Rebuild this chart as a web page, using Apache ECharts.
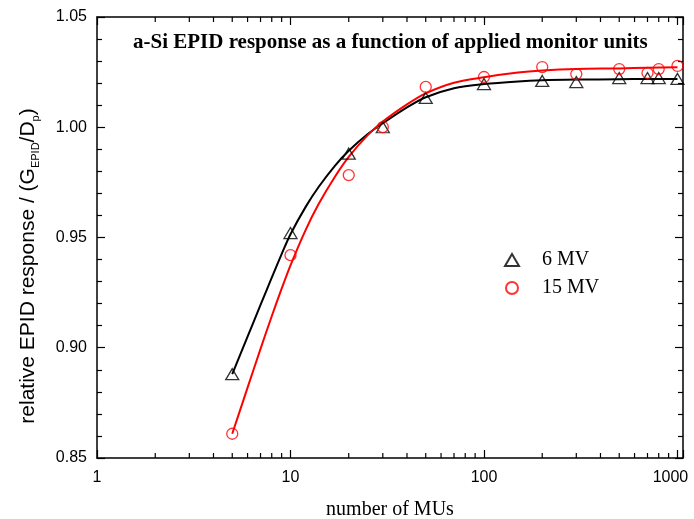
<!DOCTYPE html>
<html>
<head>
<meta charset="utf-8">
<script src="https://cdn.jsdelivr.net/npm/echarts@6/dist/echarts.min.js"></script>
<style>
  html, body { margin: 0; padding: 0; background: #fff; }
  #chart { width: 694px; height: 519px; }
</style>
</head>
<body>
<div id="chart"></div>
<script>
// Measured monitor units and relative EPID response
const monitorUnits = [5, 10, 20, 30, 50, 100, 200, 300, 500, 700, 800, 1000];
const response6MV  = [0.888, 0.952, 0.988, 1.000, 1.0133, 1.0196, 1.021, 1.0205, 1.0223, 1.0223, 1.0223, 1.0219];
const response15MV = [0.861, 0.942, 0.9783, 1.0001, 1.0183, 1.0228, 1.0273, 1.0241, 1.0264, 1.0246, 1.0264, 1.0278];

// Fitted curves
const fitMU    = [5, 6, 7, 8, 9, 10, 12, 14, 17, 20, 25, 30, 40, 50, 70, 100, 150, 200, 300, 500, 700, 1000];
const fit6MV   = [0.888, 0.9050, 0.9194, 0.9318, 0.9425, 0.9515, 0.9640, 0.9730, 0.9826, 0.9893, 0.9968, 1.0018, 1.0090, 1.0136, 1.0177, 1.0196, 1.0208, 1.0213, 1.0216, 1.0218, 1.0219, 1.0219];
const fit15MV  = [0.861, 0.8819, 0.8995, 0.9143, 0.9268, 0.9374, 0.9536, 0.9653, 0.9777, 0.9866, 0.9963, 1.0026, 1.0104, 1.0154, 1.0202, 1.0227, 1.0248, 1.0257, 1.0264, 1.0267, 1.0270, 1.0272];

// Axis ticks
const xMajorTicks = [1, 10, 100, 1000];
const xMinorTicks = [2, 3, 4, 5, 6, 7, 8, 9, 20, 30, 40, 50, 60, 70, 80, 90, 200, 300, 400, 500, 600, 700, 800, 900];
const xMin = 1, xMax = 1068;
const yMin = 0.85, yMax = 1.05;

const chartTitle = 'a-Si EPID response as a function of applied monitor units';
const xTitle = 'number of MUs';
const yTitle = '{a|relative EPID response / (G}{s|EPID}{a|/D}{s|p}{a|)}';
const seriesNames = ['6 MV', '15 MV'];

const chart = echarts.init(document.getElementById('chart'));

const axisLine = { show: true, lineStyle: { color: '#000', width: 1.5 } };
const majorTick = { show: true, inside: true, length: 8, lineStyle: { color: '#000', width: 1.2 } };

function pairs(xs, ys) { return xs.map((x, i) => [x, ys[i]]); }

// Decade labels; the last one is nudged inward so it stays on the canvas
function decadeLabel(v) {
  const r = Math.round(v);
  if (Math.abs(v - r) > 1e-6 || xMajorTicks.indexOf(r) < 0) return '';
  return r === xMajorTicks[xMajorTicks.length - 1] ? '{edge|' + r + '}' : String(r);
}

// Minor log ticks on bottom and top edges
function renderMinorTicks(params, api) {
  const v = api.value(0);
  const bottom = api.coord([v, yMin]);
  const top = api.coord([v, yMax]);
  const style = { stroke: '#000', lineWidth: 1.2 };
  return {
    type: 'group',
    children: [
      { type: 'line', shape: { x1: bottom[0], y1: bottom[1], x2: bottom[0], y2: bottom[1] - 5 }, style: style },
      { type: 'line', shape: { x1: top[0], y1: top[1], x2: top[0], y2: top[1] + 5 }, style: style }
    ]
  };
}

const option = {
  backgroundColor: '#fff',
  animation: false,
  grid: { left: 97, right: 11, top: 17, bottom: 61, containLabel: false, outerBoundsMode: 'none' },
  title: {
    text: chartTitle,
    left: 128, top: 27,
    textStyle: { fontFamily: 'Liberation Serif', fontWeight: 'bold', fontSize: 21, color: '#000' }
  },
  legend: {
    orient: 'vertical',
    left: 499, top: 245,
    itemGap: 8,
    itemWidth: 14, itemHeight: 12,
    data: seriesNames,
    textStyle: { fontFamily: 'Liberation Serif', fontSize: 20, color: '#000', padding: [0, 0, 0, 18] }
  },
  graphic: [
    {
      type: 'text', x: 28, y: 266, rotation: Math.PI / 2,
      style: {
        text: yTitle, align: 'center', verticalAlign: 'middle',
        rich: {
          a: { fontFamily: 'Liberation Sans', fontSize: 21, fill: '#000', lineHeight: 26, verticalAlign: 'middle' },
          s: { fontFamily: 'Liberation Sans', fontSize: 11, fill: '#000', lineHeight: 26, verticalAlign: 'bottom', padding: [12, 0, 0, 0] }
        }
      }
    }
  ],
  xAxis: [
    {
      type: 'log', logBase: 10, min: xMin, max: xMax,
      name: xTitle, nameLocation: 'middle', nameGap: 42,
      nameTextStyle: { fontFamily: 'Liberation Serif', fontSize: 20, color: '#000' },
      axisLine: axisLine,
      axisTick: majorTick,
      axisLabel: {
        fontFamily: 'Liberation Sans', fontSize: 16, color: '#000', margin: 12,
        formatter: decadeLabel,
        rich: { edge: { fontFamily: 'Liberation Sans', fontSize: 16, color: '#000', padding: [0, 14, 0, 0] } }
      },
      splitLine: { show: false }
    },
    {
      type: 'log', logBase: 10, min: xMin, max: xMax, position: 'top',
      axisLine: axisLine,
      axisTick: majorTick,
      axisLabel: { show: false },
      splitLine: { show: false }
    }
  ],
  yAxis: [
    {
      type: 'value', min: yMin, max: yMax, interval: 0.05,
      axisLine: axisLine,
      axisTick: majorTick,
      minorTick: { show: true, splitNumber: 5, length: 5, lineStyle: { color: '#000', width: 1.2 } },
      axisLabel: { fontFamily: 'Liberation Sans', fontSize: 16, color: '#000', margin: 10, formatter: v => v.toFixed(2) },
      splitLine: { show: false }
    },
    {
      type: 'value', min: yMin, max: yMax, interval: 0.05, position: 'right',
      axisLine: axisLine,
      axisTick: majorTick,
      minorTick: { show: true, splitNumber: 5, length: 5, lineStyle: { color: '#000', width: 1.2 } },
      axisLabel: { show: false },
      splitLine: { show: false }
    }
  ],
  series: [
    {
      name: 'fit6', type: 'line', smooth: 0.3, showSymbol: false,
      data: pairs(fitMU, fit6MV),
      lineStyle: { color: '#000', width: 2 }, z: 2
    },
    {
      name: 'fit15', type: 'line', smooth: 0.3, showSymbol: false,
      data: pairs(fitMU, fit15MV),
      lineStyle: { color: '#ff0000', width: 2 }, z: 2
    },
    {
      name: seriesNames[0], type: 'scatter', symbol: 'triangle', symbolSize: [13, 11],
      data: pairs(monitorUnits, response6MV),
      itemStyle: { color: 'transparent', borderColor: '#000', borderWidth: 1.3 }, z: 3
    },
    {
      name: seriesNames[1], type: 'scatter', symbol: 'circle', symbolSize: 11,
      data: pairs(monitorUnits, response15MV),
      itemStyle: { color: 'transparent', borderColor: '#ff0000', borderWidth: 1.3 }, z: 3
    },
    {
      name: 'minorTicks', type: 'custom', renderItem: renderMinorTicks, clip: false,
      data: xMinorTicks.map(v => [v, yMin]), silent: true, z: 4
    }
  ]
};

chart.setOption(option);
</script>
</body>
</html>
